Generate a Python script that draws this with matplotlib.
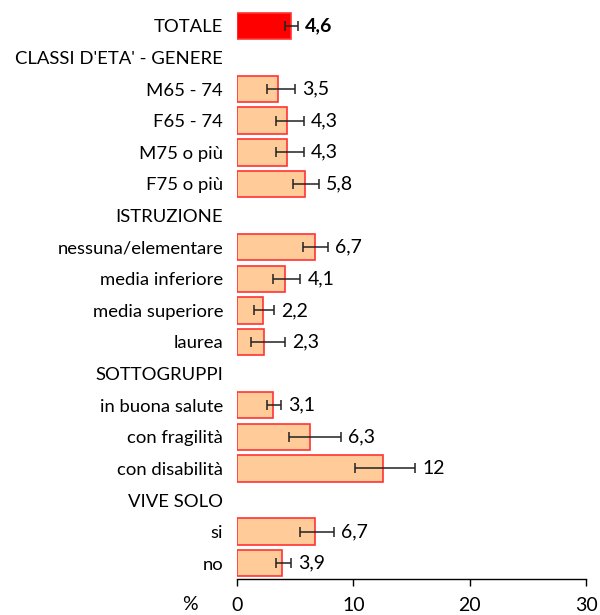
import numpy as np
import matplotlib
matplotlib.use("Agg")
import matplotlib.pyplot as plt

plt.rcParams['font.family'] = ['Lato', 'DejaVu Sans']

# righe dall'alto verso il basso (None = riga di intestazione)
etichette = ["TOTALE", "CLASSI D'ETA' - GENERE", "M65 - 74", "F65 - 74", "M75 o più", "F75 o più",
             "ISTRUZIONE", "nessuna/elementare", "media inferiore", "media superiore", "laurea",
             "SOTTOGRUPPI", "in buona salute", "con fragilità", "con disabilità",
             "VIVE SOLO", "si", "no"]
valori = [4.6, None, 3.5, 4.3, 4.3, 5.8, None, 6.7, 4.1, 2.2, 2.3, None, 3.1, 6.3, 12.5, None, 6.7, 3.9]
ic_inf = [4.1, None, 2.6, 3.35, 3.35, 4.85, None, 5.7, 3.1, 1.5, 1.2, None, 2.55, 4.5, 10.15, None, 5.45, 3.35]
ic_sup = [5.25, None, 5.0, 5.75, 5.75, 7.05, None, 7.85, 5.45, 3.2, 4.15, None, 3.8, 8.9, 15.3, None, 8.3, 4.65]
testi = ["4,6", "", "3,5", "4,3", "4,3", "5,8", "", "6,7", "4,1", "2,2", "2,3", "", "3,1", "6,3", "12", "", "6,7", "3,9"]

n = len(etichette)
y = np.arange(n)

fig = plt.figure(figsize=(6, 6.15), dpi=100)
ax = fig.add_axes([0.395, 0.0585, 0.582, 0.925])

for i in range(n):
    if valori[i] is None:
        continue
    col = '#FF0000' if i == 0 else '#FFCC99'
    ax.barh(y[i], valori[i], height=0.84, color=col, edgecolor='#FF3333', linewidth=1.2)
    ax.errorbar(valori[i], y[i], xerr=[[valori[i] - ic_inf[i]], [ic_sup[i] - valori[i]]],
                fmt='none', ecolor='#222222', elinewidth=1.1, capsize=3.5, capthick=1.1)
    ax.annotate(testi[i], (max(ic_sup[i], valori[i]), y[i]), xytext=(5, 0), textcoords='offset points',
                va='center', ha='left', fontsize=14,
                fontweight='bold' if i == 0 else 'normal')

ax.set_ylim(n - 0.5, -0.5)
ax.set_xlim(0, 30)
ax.set_xticks([0, 10, 20, 30])
ax.set_yticks(y)
ax.set_yticklabels(etichette, fontsize=13.3)
ax.tick_params(axis='y', length=0, pad=10)
ax.tick_params(axis='x', labelsize=14, length=5, width=1, pad=8)
for s in ['top', 'right', 'left']:
    ax.spines[s].set_visible(False)
ax.spines['bottom'].set_linewidth(1)

fig.text(190 / 600, 1 - 605 / 615, '%', fontsize=14, ha='center', va='center')

fig.savefig('out.png', dpi=100)
